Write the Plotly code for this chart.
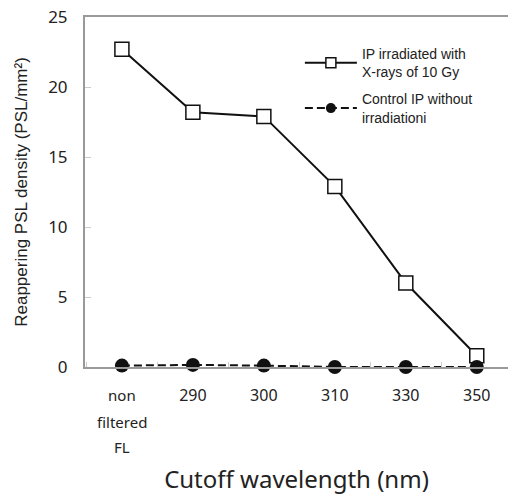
import plotly.graph_objects as go

categories = ["non", "290", "300", "310", "330", "350"]
irradiated = [22.7, 18.2, 17.9, 12.9, 6.0, 0.8]
control = [0.1, 0.15, 0.1, 0.0, 0.0, 0.0]
y_ticks = [0, 5, 10, 15, 20, 25]
x_ticktext = ["<span style='font-size:15px'>non</span>", "290", "300", "310", "330", "350"]
extra_label_lines = ["filtered", "FL"]
names = ["IP irradiated with<br>X-rays of 10 Gy", "Control IP without<br>irradiationi"]

ink = "#111111"
fig = go.Figure()
fig.add_trace(go.Scatter(
    x=categories, y=irradiated, mode="lines+markers", showlegend=False, cliponaxis=False,
    line=dict(color=ink, width=2),
    marker=dict(symbol="square", size=14, color="white", line=dict(color=ink, width=1.5)),
))
fig.add_trace(go.Scatter(
    x=categories, y=control, mode="lines+markers", showlegend=False, cliponaxis=False,
    line=dict(color=ink, width=2, dash="8px,4px"),
    marker=dict(symbol="circle", size=14, color=ink),
))
# legend entries (smaller symbols, as in the original key)
fig.add_trace(go.Scatter(
    x=[None], y=[None], mode="lines+markers", name=names[0], legendgroup="a",
    line=dict(color=ink, width=2),
    marker=dict(symbol="square", size=10, color="white", line=dict(color=ink, width=1.5)),
))
fig.add_trace(go.Scatter(
    x=[None], y=[None], mode="lines+markers", name=names[1], legendgroup="b",
    line=dict(color=ink, width=2, dash="8px,4px"),
    marker=dict(symbol="circle", size=10, color=ink),
))

font_lbl = "Noto Sans, Open Sans, sans-serif"
for i, t in enumerate(extra_label_lines):
    fig.add_annotation(x=categories[0], y=0, xref="x", yref="paper", text=t,
                       showarrow=False, yanchor="middle", yshift=-55 - 25 * i,
                       font=dict(size=15, color="#222", family=font_lbl))

fig.update_layout(
    width=508, height=495,
    margin=dict(l=85, r=0, t=17, b=128),
    plot_bgcolor="white", paper_bgcolor="white",
    showlegend=True,
    legend=dict(x=0.508, y=0.94, xanchor="left", yanchor="top",
                font=dict(size=14, family="Liberation Sans, Arial", color="#222"),
                bgcolor="rgba(0,0,0,0)", itemwidth=52, tracegroupgap=6,
                traceorder="grouped"),
    xaxis=dict(
        type="category", range=[-0.52, 5.44],
        tickvals=categories, ticktext=x_ticktext,
        showline=True, linecolor="#999999", linewidth=2, mirror=True,
        ticks="inside", tickson="boundaries", ticklen=5, tickcolor="#cccccc",
        showgrid=False, zeroline=False, ticklabelstandoff=13,
        tickfont=dict(size=16, color="#222", family=font_lbl),
        title=dict(text="Cutoff wavelength (nm)", standoff=68,
                   font=dict(size=24, color="#222", family=font_lbl)),
    ),
    yaxis=dict(
        range=[0, 25], tickvals=y_ticks,
        showline=True, linecolor="#999999", linewidth=2,
        ticks="inside", ticklen=6, tickcolor="#cccccc",
        showgrid=False, zeroline=False, ticklabelstandoff=12,
        tickfont=dict(size=17, color="#222", family=font_lbl),
        title=dict(text="Reappering PSL density (PSL/mm²)", standoff=16,
                   font=dict(size=17, color="#222", family="Liberation Sans, Arial")),
    ),
)
fig.write_html("out.html")
